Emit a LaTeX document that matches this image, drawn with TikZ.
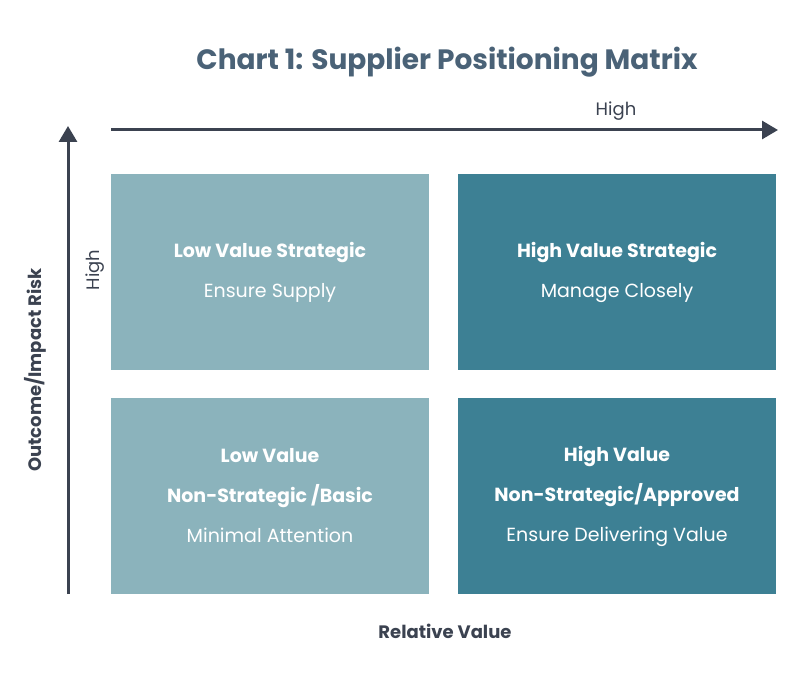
\documentclass[tikz,border=0pt]{standalone}
\usepackage{fontspec}
\setmainfont{Poppins}
\usetikzlibrary{arrows.meta}
\definecolor{light}{HTML}{8BB3BC}
\definecolor{dark}{HTML}{3D8094}
\definecolor{titlec}{HTML}{4A6277}
\definecolor{axisc}{HTML}{3B4250}
\tikzset{
 quad/.style={minimum width=318pt,minimum height=196pt,inner sep=0pt,text=white,align=center,font=\fontsize{19}{40}\selectfont},
 axis/.style={draw=axisc,line width=3pt,-{Triangle[length=16pt,width=18pt]}},
 lab/.style={text=axisc,font=\fontsize{18}{20}\selectfont}
}
\begin{document}
\begin{tikzpicture}[x=1pt,y=-1pt]
\useasboundingbox (0,0) rectangle (797,679);
\node[text=titlec,font=\fontsize{28}{32}\selectfont\bfseries] (title) at (447,62) {Chart 1: Supplier Positioning Matrix};
\coordinate (h0) at (111,130); \coordinate (h1) at (778,130);
\draw[axis] (h0) -- (h1);
\coordinate (v0) at (68,594); \coordinate (v1) at (68,126);
\draw[axis] (v0) -- (v1);
\node[lab] (hh) at (616,111) {High};
\node[lab,rotate=90] (hv) at (95,270) {High};
\node[lab,rotate=90,font=\fontsize{18}{20}\selectfont\bfseries] (yl) at (35,370) {Outcome/Impact Risk};
\node[lab,font=\fontsize{18}{20}\selectfont\bfseries] (xl) at (445,631) {Relative Value};
\node[quad,fill=light] (q1) at (270,272) {\textbf{Low Value Strategic}\\Ensure Supply};
\node[quad,fill=dark] (q2) at (617,272) {\textbf{High Value Strategic}\\Manage Closely};
\node[quad,fill=light] (q3) at (270,496) {\textbf{Low Value}\\\textbf{Non-Strategic /Basic}\\Minimal Attention};
\node[quad,fill=dark] (q4) at (617,496) {\textbf{High Value}\\\textbf{Non-Strategic/Approved}\\Ensure Delivering Value};
\end{tikzpicture}
\end{document}
